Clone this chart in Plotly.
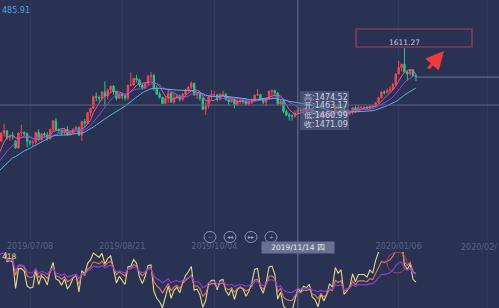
import numpy as np
import pandas as pd
import plotly.graph_objects as go

# ---------------- data ----------------
holidays = ["2019-12-25", "2020-01-01"]
dates = pd.bdate_range("2019-06-21", "2020-01-14")
dates = dates[~dates.isin(pd.to_datetime(holidays))]

open_ = [
    1388, 1400, 1418, 1423, 1408, 1410,
    1400, 1384, 1418, 1419, 1416, 1399, 1396, 1397, 1419, 1403, 1416, 1413, 1406, 1426, 1446, 1426, 1424, 1418, 1426, 1414, 1419, 1427, 1430,
    1413, 1444, 1440, 1464, 1474, 1501, 1499, 1497, 1511, 1502, 1516, 1524, 1513, 1497, 1507, 1502, 1498, 1526, 1527, 1542, 1539, 1527,
    1520, 1529, 1547, 1548, 1519, 1506, 1499, 1485, 1497, 1509, 1488, 1498, 1502, 1494, 1506, 1516, 1522, 1531, 1504, 1505, 1497,
    1472, 1479, 1500, 1505, 1505, 1494, 1505, 1506, 1494, 1489, 1494, 1482, 1490, 1492, 1490, 1484, 1487, 1492, 1504, 1505, 1493, 1488, 1496,
    1513, 1514, 1509, 1484, 1490, 1467, 1459, 1456, 1456, 1463.17, 1471, 1468, 1472, 1471, 1473, 1464, 1462, 1455, 1461, 1455, 1458,
    1464, 1462, 1477, 1474, 1477, 1460, 1462, 1465, 1475, 1470, 1476, 1476, 1476, 1475, 1479, 1478, 1487, 1498, 1511, 1510, 1514,
    1517, 1528, 1552, 1566, 1574, 1556, 1552, 1562, 1548,
]
high = [
    1411, 1420, 1439, 1424, 1414, 1420,
    1402, 1420, 1437, 1422, 1420, 1402, 1403, 1420, 1426, 1418, 1420, 1420, 1428, 1447, 1452, 1428, 1426, 1430, 1434, 1423, 1428, 1434, 1433,
    1446, 1450, 1466, 1475, 1503, 1510, 1503, 1513, 1535, 1519, 1525, 1527, 1514, 1508, 1510, 1503, 1528, 1555, 1543, 1550, 1541, 1531,
    1533, 1550, 1557, 1552, 1526, 1512, 1500, 1500, 1518, 1511, 1512, 1507, 1505, 1509, 1518, 1525, 1535, 1532, 1511, 1509, 1498,
    1489, 1501, 1515, 1513, 1506, 1509, 1514, 1509, 1499, 1497, 1495, 1494, 1498, 1495, 1495, 1490, 1495, 1505, 1518, 1507, 1496, 1498, 1515,
    1517, 1516, 1511, 1494, 1493, 1471, 1464, 1461, 1469, 1474.52, 1474, 1475, 1476, 1477, 1474, 1468, 1463, 1463, 1462, 1459, 1467,
    1467, 1479, 1484, 1481, 1478, 1465, 1467, 1477, 1480, 1481, 1479, 1479, 1479, 1481, 1481, 1488, 1499, 1513, 1515, 1519, 1524,
    1532, 1553, 1582, 1575, 1611.27, 1559, 1563, 1562, 1552,
]
low = [
    1386, 1397, 1410, 1403, 1400, 1403,
    1382, 1382, 1410, 1411, 1386, 1390, 1388, 1393, 1399, 1401, 1409, 1401, 1403, 1421, 1422, 1416, 1413, 1412, 1411, 1412, 1414, 1423, 1411,
    1400, 1431, 1438, 1456, 1472, 1490, 1490, 1492, 1480, 1494, 1510, 1505, 1492, 1496, 1495, 1492, 1492, 1524, 1525, 1533, 1522, 1517,
    1518, 1528, 1537, 1514, 1506, 1496, 1485, 1483, 1486, 1488, 1485, 1496, 1489, 1490, 1500, 1511, 1517, 1503, 1495, 1491, 1470,
    1459, 1474, 1494, 1502, 1489, 1492, 1502, 1491, 1481, 1487, 1474, 1480, 1484, 1484, 1481, 1480, 1484, 1489, 1502, 1491, 1483, 1480, 1493,
    1503, 1502, 1481, 1480, 1463, 1456, 1446, 1446, 1453, 1460.99, 1464, 1462, 1466, 1463, 1460, 1456, 1452, 1453, 1451, 1453, 1456,
    1454, 1459, 1472, 1473, 1458, 1456, 1458, 1460, 1463, 1465, 1471, 1470, 1472, 1471, 1474, 1477, 1485, 1497, 1505, 1508, 1508,
    1516, 1525, 1552, 1558, 1555, 1537, 1549, 1547, 1536,
]
close = [
    1399, 1418, 1423, 1408, 1410, 1409,
    1384, 1418, 1419, 1416, 1399, 1396, 1397, 1419, 1403, 1416, 1413, 1406, 1426, 1446, 1426, 1424, 1418, 1426, 1414, 1419, 1427, 1430, 1413,
    1444, 1440, 1464, 1474, 1501, 1499, 1497, 1511, 1502, 1516, 1524, 1513, 1497, 1507, 1502, 1498, 1526, 1527, 1542, 1539, 1527, 1520,
    1529, 1547, 1548, 1519, 1506, 1499, 1485, 1497, 1509, 1488, 1498, 1502, 1494, 1506, 1516, 1522, 1531, 1504, 1505, 1497, 1472,
    1479, 1500, 1505, 1505, 1494, 1505, 1506, 1494, 1489, 1494, 1482, 1490, 1492, 1490, 1484, 1487, 1492, 1504, 1505, 1493, 1488, 1496, 1513,
    1514, 1509, 1484, 1490, 1467, 1459, 1456, 1456, 1463, 1471.09, 1468, 1472, 1471, 1473, 1464, 1462, 1455, 1461, 1455, 1458, 1464,
    1462, 1477, 1474, 1477, 1460, 1462, 1465, 1475, 1470, 1476, 1476, 1476, 1475, 1479, 1478, 1487, 1498, 1511, 1510, 1514, 1517,
    1528, 1552, 1566, 1574, 1556, 1552, 1562, 1548, 1545,
]
# closes before the visible window (warm-up for the averages / RSI)
warmup_close = [1284, 1271, 1279, 1282, 1285, 1281, 1284, 1286, 1301, 1296,
                1297, 1286, 1277, 1277, 1273, 1274, 1283, 1284, 1285, 1279,
                1280, 1288, 1305, 1327, 1325, 1333, 1337, 1341, 1327, 1327,
                1334, 1342, 1341, 1339, 1345, 1361, 1388]

tick_dates = ["2019-07-08", "2019-08-21", "2019-10-04", "2020-01-06", "2020-02-18"]
edge_label = "2020/02/"          # the last date label, cut by the right edge
cross_date = "2019-11-14"
cross_label = "2019/11/14 四"
peak_date = "2020-01-08"
ma_periods = [5, 10, 20]
rsi_periods = [6, 12, 24]

assert len(open_) == len(high) == len(low) == len(close) == len(dates)

# ---------------- indicators ----------------
allc = pd.Series(warmup_close + close, dtype=float)
nw = len(warmup_close)
mas = {n: allc.rolling(n).mean().iloc[nw:].values for n in ma_periods}


def rsi(series, n):
    d = series.diff().fillna(0).values
    up = np.maximum(d, 0)
    ab = np.abs(d)
    su, sa = up[0], ab[0] + 1e-9
    out = []
    for u, a in zip(up, ab):
        su = (u + (n - 1) * su) / n
        sa = (a + (n - 1) * sa) / n
        out.append(100 * su / sa if sa > 0 else 50)
    return np.array(out)[nw:]


rsis = {n: rsi(allc, n) for n in rsi_periods}

# ---------------- figure ----------------
W, H = 499, 308
BG = "#2a3254"
px = lambda x: x / W
py = lambda y: 1 - y / H

fig = go.Figure()
fig.add_trace(go.Candlestick(
    x=dates, open=open_, high=high, low=low, close=close,
    increasing=dict(line=dict(color="#f5464e", width=1), fillcolor="#f5464e"),
    decreasing=dict(line=dict(color="#2ec585", width=1), fillcolor="#2ec585"),
    whiskerwidth=0, xaxis="x", yaxis="y", hoverinfo="skip",
))
ma_colors = {5: "#e2609a", 10: "#9446dc", 20: "#5cb2e4"}
for n in ma_periods:
    fig.add_trace(go.Scatter(x=dates, y=mas[n], mode="lines",
                             line=dict(color=ma_colors[n], width=1),
                             xaxis="x", yaxis="y", hoverinfo="skip"))
rsi_colors = {6: "#e4d98a", 12: "#dc7a62", 24: "#8e3fd4"}
for n in rsi_periods:
    fig.add_trace(go.Scatter(x=dates, y=rsis[n], mode="lines",
                             line=dict(color=rsi_colors[n], width=1.1),
                             xaxis="x2", yaxis="y2", hoverinfo="skip"))

xr = ["2019-06-21 14:00", "2020-02-21 20:00"]
rb = [dict(bounds=["sat", "mon"]), dict(values=holidays)]
fig.update_layout(
    width=W, height=H, margin=dict(l=0, r=0, t=0, b=0),
    paper_bgcolor=BG, plot_bgcolor=BG, showlegend=False, hovermode=False,
    font=dict(family="DejaVu Sans", size=8, color="#5d6787"),
    xaxis=dict(domain=[0, 1], anchor="y", type="date", range=xr, rangebreaks=rb,
               tickvals=tick_dates, tickformat="%Y/%m/%d", ticks="",
               tickfont=dict(size=8, color="#5a6485"),
               showgrid=True, gridcolor="#323a5c", gridwidth=1,
               zeroline=False, showline=False, rangeslider=dict(visible=False)),
    yaxis=dict(domain=[py(240), 1], anchor="x", range=[1175, 1720], visible=False),
    xaxis2=dict(domain=[0, 1], anchor="y2", type="date", matches="x", rangebreaks=rb,
                tickvals=tick_dates, showticklabels=False, ticks="",
                showgrid=True, gridcolor="#323a5c", zeroline=False, showline=False),
    yaxis2=dict(domain=[0, py(252)], anchor="x2", range=[26, 84], visible=False),
)

shapes = []
# crosshair
shapes.append(dict(type="line", xref="x", yref="paper", x0=cross_date, x1=cross_date,
                   y0=0, y1=1, line=dict(color="#6b7498", width=1)))
shapes.append(dict(type="line", xref="paper", yref="paper", x0=0, x1=1,
                   y0=py(105), y1=py(105), line=dict(color="#5a6388", width=1)))
# last price line
shapes.append(dict(type="line", xref="x", yref="y", x0=dates[-1], x1=xr[1],
                   y0=close[-1], y1=close[-1], line=dict(color="#6f779c", width=1)))
# tooltip background
shapes.append(dict(type="rect", xref="paper", yref="paper", x0=px(300), x1=px(349),
                   y0=py(91), y1=py(130), fillcolor="rgba(95,105,140,0.55)", line=dict(width=0)))
# red box
shapes.append(dict(type="rect", xref="paper", yref="paper", x0=px(356), x1=px(472),
                   y0=py(29), y1=py(47), line=dict(color="#a43e5e", width=1.2)))
# circle in lower panel
shapes.append(dict(type="circle", xref="paper", yref="paper", x0=px(387), x1=px(407),
                   y0=py(252), y1=py(273), line=dict(color="#a8405e", width=1)))
# buttons
for cx in [210, 230, 251, 271]:
    shapes.append(dict(type="circle", xref="paper", yref="paper", x0=px(cx - 6), x1=px(cx + 6),
                       y0=py(231.5), y1=py(242.5), line=dict(color="#8a92b2", width=1)))
fig.update_layout(shapes=shapes)

ann = []
for cx, sym in zip([210, 230, 251, 271], ["−", "◂◂", "▸▸", "+"]):
    ann.append(dict(xref="paper", yref="paper", x=px(cx), y=py(237), text=sym, showarrow=False,
                    font=dict(size=6, color="#9aa2c0"), xanchor="center", yanchor="middle"))
# tooltip lines
tips = [("高", high), ("开", open_), ("低", low), ("收", close)]
idx = list(dates).index(pd.Timestamp(cross_date))
for i, (lab, arr) in enumerate(tips):
    ann.append(dict(xref="paper", yref="paper", x=px(302), y=py(97 + 9 * i),
                    text=f"{lab}:{arr[idx]:.2f}", showarrow=False, xanchor="left", yanchor="middle",
                    font=dict(size=8, color="#cfd2e2")))
# highlighted date label
ann.append(dict(xref="x", yref="paper", x=cross_date, y=py(247), text=cross_label, showarrow=False,
                xanchor="center", yanchor="middle", bgcolor="#6a7190", width=70, height=9,
                font=dict(size=7.5, color="#e4e6ef")))
# right-edge date label (cut off in the original)
ann.append(dict(xref="paper", yref="paper", x=1, y=py(247), text=edge_label, showarrow=False,
                xanchor="right", yanchor="middle", font=dict(size=8, color="#5a6485")))
# peak label
ann.append(dict(xref="x", yref="y", x=peak_date, y=max(high), text=f"{max(high):.2f}", showarrow=False,
                xanchor="center", yanchor="bottom", yshift=-1, font=dict(size=7.5, color="#c8cbdc")))
# red arrow
ann.append(dict(xref="paper", yref="paper", x=px(444), y=py(51), ax=-17, ay=19, text="",
                showarrow=True, arrowhead=2, arrowsize=1.2, arrowwidth=3, arrowcolor="#f03a3e"))
# corner texts
ann.append(dict(xref="paper", yref="paper", x=0, y=py(11), text="485.91", showarrow=False,
                xanchor="left", yanchor="middle", font=dict(size=8, color="#4fa3d8")))
ann.append(dict(xref="paper", yref="paper", x=0, y=py(256), text="418", showarrow=False,
                xanchor="left", yanchor="middle", font=dict(size=7.5, color="#e4d98a")))
fig.update_layout(annotations=ann)

fig.write_html("out.html")
